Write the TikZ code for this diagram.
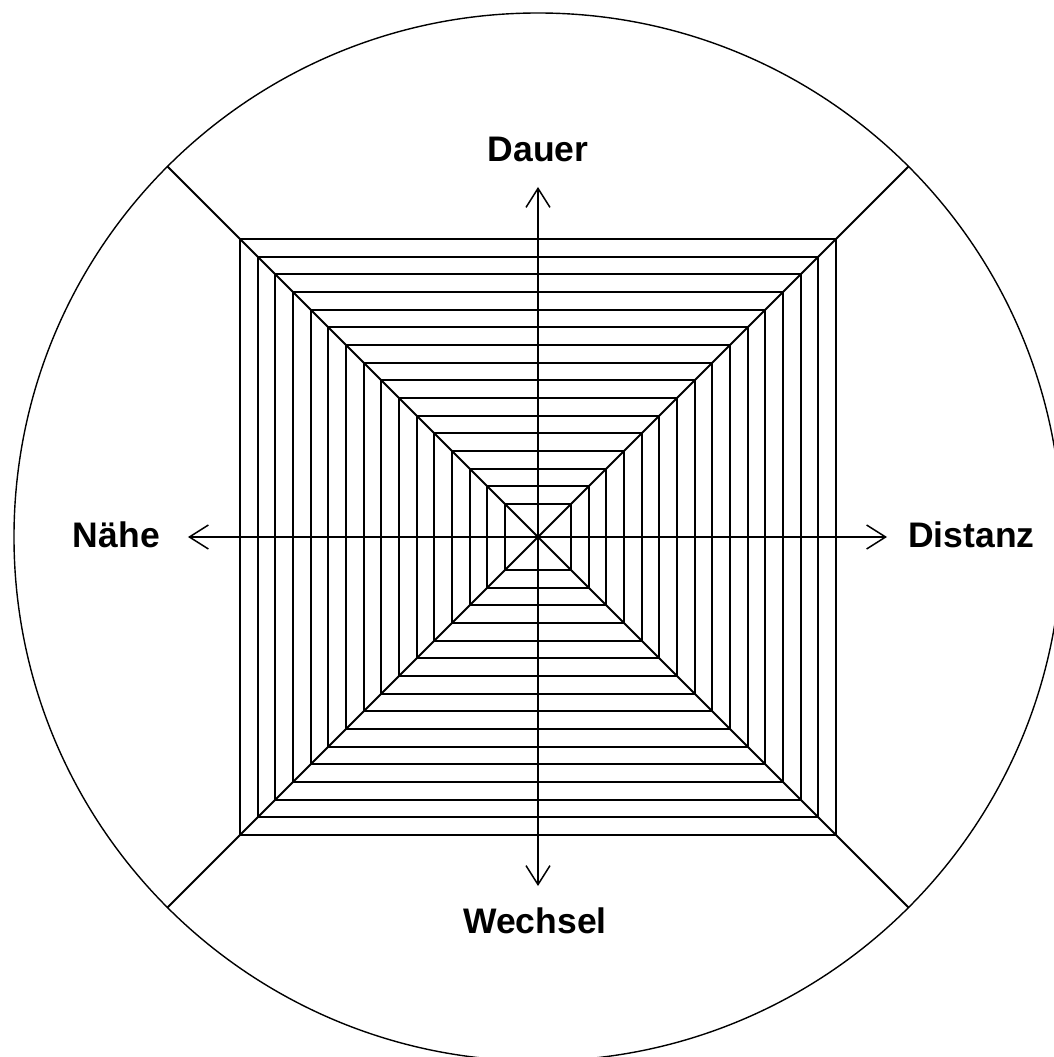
\documentclass[tikz,border=0pt]{standalone}
\usepackage{fontspec}
\setmainfont{Liberation Sans}
\usetikzlibrary{arrows.meta}

\tikzset{
    achse/.style={line width=2pt, -{Straight Barb[length=19pt, width=24pt, line width=1.5pt]}},
    netz/.style={line width=2pt},
    beschriftung/.style={inner sep=0pt, font=\fontsize{35.5}{40}\selectfont\bfseries}
}

\begin{document}
\begin{tikzpicture}[x=1pt, y=1pt]
    \useasboundingbox (-538,-520) rectangle (516,537);
    \clip (-538,-520) rectangle (516,537);

    % Kreis und Diagonalen
    \coordinate (O) at (0,0);
    \draw[line width=1.4pt] (O) circle (524);
    \coordinate (ol) at (135:524);
    \coordinate (or) at (45:524);
    \coordinate (ul) at (225:524);
    \coordinate (ur) at (315:524);
    \draw[netz] (ol) -- (ur);
    \draw[netz] (or) -- (ul);

    % Verschachtelte Quadrate
    \foreach \h in {33,51,68,86,104,121,139,157,174,192,210,227,245,263,280,298}
        \draw[netz] (-\h,-\h) rectangle (\h,\h);

    % Achsen
    \coordinate (spitzeO) at (0,350);
    \coordinate (spitzeU) at (0,-349);
    \coordinate (spitzeL) at (-350,0);
    \coordinate (spitzeR) at (349,0);
    \draw[achse] (O) -- (spitzeO);
    \draw[achse] (O) -- (spitzeU);
    \draw[achse] (O) -- (spitzeL);
    \draw[achse] (O) -- (spitzeR);

    % Beschriftungen
    \node[beschriftung, anchor=base] (dauer) at (0,375) {Dauer};
    \node[beschriftung, anchor=base] (wechsel) at (-3,-396) {Wechsel};
    \node[beschriftung, anchor=base east] (naehe) at (-378,-11) {Nähe};
    \node[beschriftung, anchor=base west] (distanz) at (370,-11) {Distanz};
\end{tikzpicture}
\end{document}
